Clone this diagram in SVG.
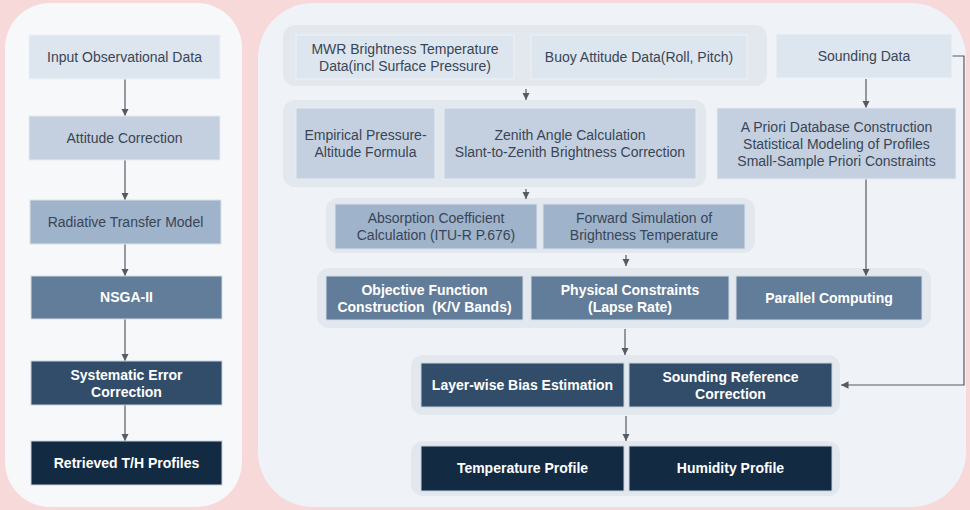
<svg xmlns="http://www.w3.org/2000/svg" width="970" height="510" viewBox="0 0 970 510">
<defs>
<marker id="ah" viewBox="0 0 10 10" refX="10" refY="5" markerWidth="7.5" markerHeight="7.5" markerUnits="userSpaceOnUse" orient="auto">
<path d="M0,0 L10,5 L0,10 z" fill="#555b63"/>
</marker>
<style>
.t{font-family:"Liberation Sans",Arial,sans-serif;font-size:14px;text-anchor:middle;fill:#394556}
.w{font-family:"Liberation Sans",Arial,sans-serif;font-size:14px;font-weight:bold;text-anchor:middle;fill:#ffffff;white-space:pre}
.c1{fill:#dde5ee;stroke:#eef1f5;stroke-width:1}
.c2{fill:#c4d0df;stroke:#e6ebf1;stroke-width:1}
.c3{fill:#9fb3ca;stroke:#dbe2ea;stroke-width:1}
.c4{fill:#627d99;stroke:#d3dbe5;stroke-width:1}
.c5{fill:#324d69;stroke:#c7d1dd;stroke-width:1}
.c6{fill:#132a43;stroke:#c7d1dd;stroke-width:1}
.grp{fill:#e3e8ef}
.ln{stroke:#555b63;stroke-width:1.2;fill:none}
</style>
</defs>
<rect x="0" y="0" width="970" height="510" fill="#f7d9da"/>
<rect x="5" y="3" width="237" height="504" rx="45" fill="#f7f8fa"/>
<rect x="258" y="3" width="708" height="504" rx="55" fill="#eff2f7"/>

<g id="containers">
<rect class="grp" x="283" y="25" width="484" height="61" rx="12"/>
<rect class="grp" x="283" y="100" width="423" height="87" rx="12"/>
<rect class="grp" x="326" y="198" width="429" height="55" rx="12"/>
<rect class="grp" x="317" y="268" width="614" height="60" rx="12"/>
<rect class="grp" x="411" y="355" width="429" height="60" rx="12"/>
<rect class="grp" x="411" y="441" width="429" height="55" rx="12"/>
</g>

<g id="connectors">
<line class="ln" x1="125" y1="79" x2="125" y2="116" marker-end="url(#ah)"/>
<line class="ln" x1="125" y1="160" x2="125" y2="200" marker-end="url(#ah)"/>
<line class="ln" x1="125" y1="244" x2="125" y2="276" marker-end="url(#ah)"/>
<line class="ln" x1="125" y1="319" x2="125" y2="361" marker-end="url(#ah)"/>
<line class="ln" x1="125" y1="405" x2="125" y2="441" marker-end="url(#ah)"/>
<line class="ln" x1="526" y1="89" x2="526" y2="100" marker-end="url(#ah)"/>
<line class="ln" x1="526" y1="189" x2="526" y2="199" marker-end="url(#ah)"/>
<line class="ln" x1="626" y1="255" x2="626" y2="266" marker-end="url(#ah)"/>
<line class="ln" x1="866" y1="79" x2="866" y2="108" marker-end="url(#ah)"/>
<line class="ln" x1="866" y1="179" x2="866" y2="276" marker-end="url(#ah)"/>
<line class="ln" x1="625" y1="329" x2="625" y2="355" marker-end="url(#ah)"/>
<line class="ln" x1="626" y1="416" x2="626" y2="441" marker-end="url(#ah)"/>
<polyline class="ln" points="952,56 964,56 964,385 841,385" marker-end="url(#ah)"/>
</g>

<g id="input"><rect class="c1" x="29" y="35" width="191" height="44"/><text class="t" x="124.5" y="62">Input Observational Data</text></g>
<g id="attitude"><rect class="c2" x="29" y="116" width="191" height="44"/><text class="t" x="124.5" y="143">Attitude Correction</text></g>
<g id="rtm"><rect class="c3" x="30" y="200" width="191" height="44"/><text class="t" x="125.5" y="227">Radiative Transfer Model</text></g>
<g id="nsga"><rect class="c4" x="31" y="276" width="191" height="43"/><text class="w" x="126.5" y="302">NSGA-II</text></g>
<g id="syserr"><rect class="c5" x="31" y="361" width="191" height="44"/><text class="w" x="126.5" y="380">Systematic Error</text><text class="w" x="126.5" y="397">Correction</text></g>
<g id="retrieved"><rect class="c6" x="31" y="441" width="191" height="44"/><text class="w" x="126.5" y="468">Retrieved T/H Profiles</text></g>

<g id="mwr"><rect class="c1" x="296" y="35" width="218" height="44"/><text class="t" x="405" y="54">MWR Brightness Temperature</text><text class="t" x="405" y="71">Data(incl Surface Pressure)</text></g>
<g id="buoy"><rect class="c1" x="531" y="35" width="216" height="44"/><text class="t" x="639" y="62">Buoy Attitude Data(Roll, Pitch)</text></g>
<g id="sounding"><rect class="c1" x="776" y="34" width="176" height="44"/><text class="t" x="864" y="61">Sounding Data</text></g>

<g id="empirical"><rect class="c2" x="296" y="108" width="139" height="71"/><text class="t" x="365.5" y="140">Empirical Pressure-</text><text class="t" x="365.5" y="157">Altitude Formula</text></g>
<g id="zenith"><rect class="c2" x="444" y="108" width="252" height="71"/><text class="t" x="570" y="140">Zenith Angle Calculation</text><text class="t" x="570" y="157">Slant-to-Zenith Brightness Correction</text></g>
<g id="apriori"><rect class="c2" x="717" y="108" width="239" height="71"/><text class="t" x="836.5" y="132">A Priori Database Construction</text><text class="t" x="836.5" y="149">Statistical Modeling of Profiles</text><text class="t" x="836.5" y="166">Small-Sample Priori Constraints</text></g>

<g id="absorption"><rect class="c3" x="335" y="204" width="202" height="45"/><text class="t" x="436" y="223">Absorption Coefficient</text><text class="t" x="436" y="240">Calculation (ITU-R P.676)</text></g>
<g id="forward"><rect class="c3" x="543" y="204" width="202" height="45"/><text class="t" x="644" y="223">Forward Simulation of</text><text class="t" x="644" y="240">Brightness Temperature</text></g>

<g id="objective"><rect class="c4" x="326" y="276" width="197" height="44"/><text class="w" x="424.5" y="295">Objective Function</text><text class="w" x="424.5" y="312">Construction  (K/V Bands)</text></g>
<g id="physical"><rect class="c4" x="531" y="276" width="198" height="44"/><text class="w" x="630" y="295">Physical Constraints</text><text class="w" x="630" y="312">(Lapse Rate)</text></g>
<g id="parallel"><rect class="c4" x="736" y="276" width="186" height="44"/><text class="w" x="829" y="303">Parallel Computing</text></g>

<g id="layerwise"><rect class="c5" x="421" y="363" width="203" height="44"/><text class="w" x="522.5" y="390">Layer-wise Bias Estimation</text></g>
<g id="soundref"><rect class="c5" x="629" y="363" width="203" height="44"/><text class="w" x="730.5" y="382">Sounding Reference</text><text class="w" x="730.5" y="399">Correction</text></g>

<g id="temperature"><rect class="c6" x="421" y="446" width="203" height="45"/><text class="w" x="522.5" y="473">Temperature Profile</text></g>
<g id="humidity"><rect class="c6" x="629" y="446" width="203" height="45"/><text class="w" x="730.5" y="473">Humidity Profile</text></g>
</svg>
